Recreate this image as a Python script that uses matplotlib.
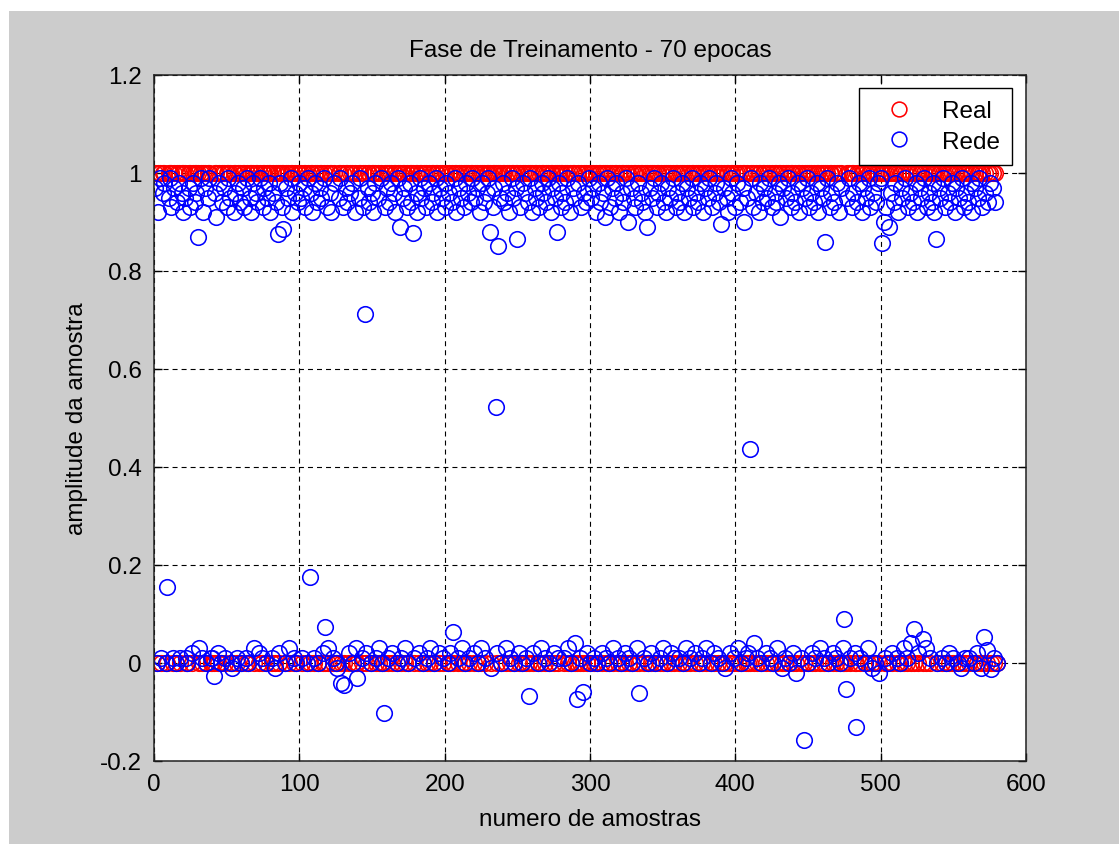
import numpy as np
import matplotlib
matplotlib.use("Agg")
import matplotlib.pyplot as plt
from matplotlib.patches import Rectangle

plt.rcParams['font.family'] = ['Liberation Sans', 'DejaVu Sans']
plt.rcParams['lines.scale_dashes'] = False

# Target class (Real) per sample
real = [
    1,0,1,1,0,1,1,0,0,1,1,1,0,1,0,1,1,0,1,1,
    1,0,0,1,1,0,1,1,1,1,0,1,0,1,1,0,1,1,0,0,
    0,1,1,0,1,0,1,1,0,1,1,1,0,0,1,1,0,1,1,0,
    1,1,0,1,0,1,1,1,0,1,1,0,1,0,1,1,0,1,1,1,
    0,1,0,1,1,0,1,1,1,0,1,1,0,1,1,0,1,0,1,1,
    1,0,1,1,0,1,0,1,1,0,1,1,0,1,1,0,1,0,1,0,
    1,1,0,1,0,0,1,1,0,1,0,1,1,0,1,1,0,1,0,0,
    1,1,0,1,1,0,1,1,0,1,1,1,0,1,0,1,0,0,1,1,
    0,1,1,0,1,1,0,1,1,0,1,1,0,1,0,1,1,1,0,1,
    1,0,1,1,0,1,1,0,1,0,1,1,0,1,1,0,1,1,0,1,
    1,0,1,0,1,0,1,1,0,1,1,0,1,0,1,1,0,1,1,0,
    1,1,0,1,0,1,1,0,1,1,1,0,1,1,1,0,1,1,0,1,
    1,0,1,1,0,1,1,0,1,1,0,1,0,1,1,0,1,0,1,1,
    0,1,1,0,1,0,1,1,0,1,1,0,1,1,0,1,1,0,1,1,
    1,0,1,1,0,1,0,1,1,0,0,1,0,1,0,1,1,0,1,0,
    1,1,0,1,0,1,1,0,1,1,0,1,0,1,1,0,1,1,0,1,
    0,1,1,0,1,1,0,1,0,1,1,0,1,0,1,1,0,1,1,0,
    1,0,1,1,0,1,1,0,1,0,1,1,0,1,1,0,1,0,1,1,
    0,1,1,0,1,0,1,1,0,1,1,0,1,1,0,1,0,1,1,0,
    1,1,0,1,0,1,1,0,1,1,0,1,0,1,1,0,1,1,0,1,
    1,0,1,0,1,1,0,1,0,0,1,1,0,1,0,1,1,0,1,1,
    0,1,1,0,1,0,1,1,0,1,1,0,1,0,1,1,0,1,1,0,
    1,0,1,1,0,1,0,1,1,0,1,1,0,1,0,1,1,0,1,1,
    0,1,1,0,1,1,0,1,0,1,1,0,1,0,0,0,1,1,0,1,
    1,0,0,1,1,0,1,1,0,1,0,1,1,0,1,0,1,1,0,1,
    1,1,0,1,0,1,1,0,1,1,0,1,0,1,1,0,1,0,1,1,
    0,1,0,1,1,0,1,1,0,1,0,1,1,0,1,1,1,1,0,1,
    1,0,1,1,0,1,0,1,1,0,1,1,0,1,0,1,1,0,1,1,
    0,1,1,0,1,0,1,1,0,1,0,1,0,1,1,0,1,0,1,0,
]

# Network output (Rede) per sample, in percent
rede_pct = [
    97,0,92,99,1,96,98,0,15.5,95,99,93,1,97,0,94,98,1,96,92,
    95,1,0,97,93,2,98,94,96,86.9,3,99,1,92,97,0,95,99,1,1,
    -2.6,96,91,2,98,0,94,97,1,93,99,95,0,-1,92,96,1,98,94,0,
    97,93,1,99,0,95,92,98,3,96,94,2,99,1,93,97,0,95,98,92,
    1,96,-1,94,87.5,2,98,93,88.5,0,97,95,3,99,92,1,96,0,94,98,
    95,1,97,93,0,99,17.6,96,92,1,98,94,0,97,95,2,99,7.3,93,3,
    96,92,1,98,0,-1,95,99,-4,93,-4.5,97,94,2,96,98,0,92,3,-3,
    95,99,1,93,71.2,2,97,94,0,96,92,98,1,95,3,99,0,-10.2,93,97,
    1,94,98,2,96,92,0,99,89,1,95,97,3,93,0,98,94,87.7,1,96,
    92,2,99,95,0,97,93,1,98,3,94,96,0,99,92,2,97,95,1,93,
    98,0,96,2,94,6.3,99,92,1,97,95,3,93,0,98,96,1,94,99,2,
    95,97,0,92,3,98,94,1,96,99,88,-1,93,97,52.2,2,85.1,95,0,98,
    94,3,96,92,1,99,95,0,97,86.5,2,93,0,98,96,1,94,-6.7,99,92,
    2,97,95,0,93,3,98,96,1,94,99,0,92,97,2,95,88,1,98,93,
    96,1,94,99,3,92,0,97,95,4,-7.3,98,1,93,-6,96,94,2,99,0,
    95,97,1,92,0,98,94,2,96,91,1,99,0,93,97,3,95,98,1,92,
    0,96,94,2,99,90,1,97,0,95,93,3,98,-6.1,96,94,1,92,89,0,
    97,2,95,99,0,93,96,1,98,3,94,92,0,97,95,2,99,1,93,96,
    1,94,98,0,92,3,97,95,1,99,93,2,96,94,0,98,1,92,97,3,
    95,99,0,93,2,96,98,1,94,89.5,0,97,-1,95,92,2,99,96,1,93,
    98,3,94,0,97,90,1,95,2,43.7,99,93,4,96,1,92,98,0,94,97,
    2,95,99,1,93,0,96,94,3,98,91,-1,97,1,95,99,0,93,96,2,
    94,-2,98,92,1,97,-15.7,95,99,0,93,96,2,94,1,98,92,3,97,95,
    1,86,99,0,93,96,2,94,1,98,92,0,97,3,9,-5.3,95,99,1,93,
    96,2,-13.1,94,98,1,92,97,0,95,3,99,93,-1,96,0,94,98,-2,99,
    85.7,90,1,93,0,89,96,2,94,98,1,92,0,97,95,3,99,1,93,96,
    4,94,6.9,98,92,2,97,95,5,99,3,93,96,1,94,98,92,86.5,0,97,
    95,1,99,93,0,96,2,94,98,1,92,97,0,95,-1,99,93,1,96,94,
    1,98,92,0,97,2,95,99,-1,93,5.3,96,2.7,94,98,-1.2,97,1,94,0,
]

title = "Fase de Treinamento - 70 epocas"
xlabel = "numero de amostras"
ylabel = "amplitude da amostra"
xticks = [0, 100, 200, 300, 400, 500, 600]
yticks = [-0.2, 0, 0.2, 0.4, 0.6, 0.8, 1.0, 1.2]
ytick_labels = ["-0.2", "0", "0.2", "0.4", "0.6", "0.8", "1", "1.2"]

real_arr = np.array(real, dtype=float)
rede_arr = np.array(rede_pct, dtype=float) / 100.0
x = np.arange(1, len(real_arr) + 1)

W, H = 1119, 845
fig = plt.figure(figsize=(W / 100, H / 100), dpi=100, facecolor='white')
fig.add_artist(Rectangle((9 / W, 0), 1 - 9 / W, 1 - 12 / H, transform=fig.transFigure,
                         facecolor='#cccccc', edgecolor='none', zorder=-5))

ax = fig.add_axes([154 / W, (H - 762) / H, 872 / W, 686 / H])
ax.set_facecolor('white')

FS = 17.5
MS = 11.2
MEW = 1.15
ax.plot(x, real_arr, linestyle='none', marker='o', markersize=MS, markerfacecolor='none',
        markeredgecolor='#ff0000', markeredgewidth=MEW, label='Real')
ax.plot(x, rede_arr, linestyle='none', marker='o', markersize=MS, markerfacecolor='none',
        markeredgecolor='#0000ff', markeredgewidth=MEW, label='Rede')

ax.set_xlim(0, 600)
ax.set_ylim(-0.2, 1.2)
ax.set_xticks(xticks)
ax.set_yticks(yticks)
ax.set_yticklabels(ytick_labels)
ax.tick_params(direction='in', length=6, width=1, top=True, right=True,
               labelsize=FS, colors='black', pad=9)
ax.grid(True, color='black', linewidth=0.8, linestyle=(0, (3.6, 2.9)))
for s in ax.spines.values():
    s.set_linewidth(1.1)
    s.set_color('#222222')

ax.set_title(title, fontsize=FS, pad=14)
ax.set_xlabel(xlabel, fontsize=FS, labelpad=9)
ax.set_ylabel(ylabel, fontsize=FS, labelpad=8)

leg = ax.legend(loc='upper right', bbox_to_anchor=(0.984, 0.981), borderaxespad=0,
                fancybox=False, framealpha=1, edgecolor='black', fontsize=FS,
                handletextpad=0.6, borderpad=0.5, labelspacing=0.35, handlelength=2.3,
                markerscale=0.95)
leg.get_frame().set_linewidth(1.0)

fig.savefig('out.png', dpi=100, facecolor=fig.get_facecolor())
